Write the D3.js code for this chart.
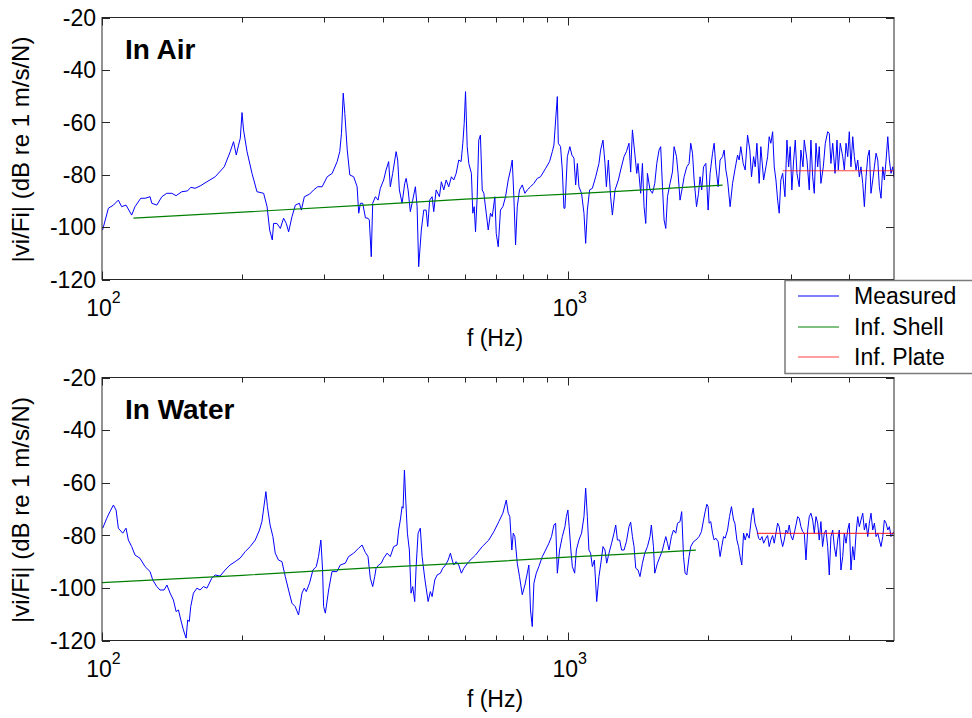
<!DOCTYPE html>
<html><head><meta charset="utf-8">
<script src="https://cdn.jsdelivr.net/npm/d3@7"></script>
<style>
body{margin:0;background:#fff;}
svg{display:block;}
text{font-family:Arial,"Liberation Sans",Helvetica,sans-serif;fill:#000;}
</style></head>
<body><div id="chart"></div>
<script>
// ---------------- data ----------------
const xDomain = [100, 5000];
const yDomain = [-120, -20];
const yTickValues = [-120, -100, -80, -60, -40, -20];
const xMajorTicks = [100, 1000];
const xMajorExponents = ["2", "3"];
const xMinorTicks = [200, 300, 400, 500, 600, 700, 800, 900, 2000, 3000, 4000];
const panelTitles = ["In Air", "In Water"];
const legendLabels = ["Measured", "Inf. Shell", "Inf. Plate"];
const yLabel = "|vi/Fi| (dB re 1 m/s/N)";
const xLabel = "f (Hz)";

const airMeasured = [[100.3,-101.1],[103.2,-92.8],[105.8,-91.6],[108.4,-89.7],[110.2,-92.2],[112.6,-91.6],[115.8,-95.4],[117.7,-92.2],[121.1,-89.0],[123.7,-89.0],[126.8,-88.4],[127.9,-90.9],[131.1,-91.6],[134.4,-88.4],[137.7,-87.1],[141.2,-87.1],[144.2,-88.0],[148.3,-86.5],[152.5,-86.2],[155.1,-84.8],[158.4,-85.2],[162.4,-84.3],[167.9,-82.7],[174.9,-80.8],[182.9,-77.0],[188.4,-71.2],[191.5,-67.4],[194.1,-72.5],[196.3,-68.7],[198.0,-66.1],[199.7,-56.3],[201.2,-62.9],[204.7,-71.2],[209.8,-79.5],[215.0,-86.5],[222.2,-87.1],[226.0,-92.2],[228.9,-101.1],[231.9,-104.9],[233.4,-98.6],[237.3,-98.6],[241.3,-100.5],[245.2,-96.6],[248.5,-98.6],[251.4,-101.8],[255.6,-96.0],[259.9,-91.6],[265.1,-90.9],[267.7,-93.5],[271.7,-88.4],[278.9,-87.4],[284.5,-85.8],[290.2,-84.6],[296.6,-84.6],[304.1,-80.8],[311.7,-79.5],[319.5,-75.0],[323.6,-71.2],[326.4,-64.2],[329.2,-48.9],[331.8,-56.6],[335.8,-70.6],[340.1,-80.1],[346.7,-80.8],[352.6,-84.6],[355.4,-94.7],[358.4,-90.9],[362.5,-90.9],[367.4,-96.5],[372.1,-96.6],[374.5,-97.3],[378.1,-111.3],[380.8,-90.9],[385.9,-88.4],[391.0,-89.7],[395.4,-85.2],[402.0,-82.0],[406.8,-78.2],[412.0,-75.0],[415.4,-84.6],[420.3,-79.5],[427.5,-71.2],[430.8,-74.4],[434.4,-85.8],[440.3,-90.9],[446.1,-83.3],[449.2,-81.4],[453.6,-85.8],[458.6,-94.1],[464.0,-89.7],[470.2,-84.6],[474.2,-92.2],[477.9,-115.1],[484.2,-101.1],[490.0,-93.5],[495.8,-93.5],[499.7,-99.8],[504.6,-89.7],[510.7,-88.4],[514.8,-94.1],[521.0,-85.8],[529.4,-88.4],[534.5,-82.7],[541.0,-85.8],[547.4,-82.0],[554.4,-84.6],[561.7,-80.8],[568.4,-82.0],[575.1,-79.5],[582.5,-74.4],[589.3,-75.0],[594.3,-68.0],[598.4,-60.4],[602.3,-48.3],[607.3,-69.3],[612.1,-75.7],[620.1,-79.5],[624.3,-94.7],[628.7,-92.2],[632.8,-101.8],[638.0,-88.4],[643.0,-66.8],[648.3,-64.9],[654.1,-85.8],[659.4,-87.1],[667.2,-94.7],[673.8,-101.1],[681.3,-94.7],[687.3,-96.0],[696.2,-88.4],[701.0,-102.4],[707.9,-107.5],[715.8,-93.5],[724.3,-92.2],[734.0,-88.4],[743.8,-82.0],[752.1,-78.2],[758.7,-74.4],[764.7,-88.4],[771.2,-106.8],[777.7,-92.2],[786.4,-85.8],[797.2,-83.9],[807.6,-87.1],[817.2,-85.8],[830.3,-84.6],[844.3,-83.3],[858.5,-81.4],[872.4,-80.8],[894.6,-77.6],[912.2,-75.0],[924.7,-71.2],[932.1,-68.7],[940.0,-59.1],[947.9,-50.2],[952.5,-68.0],[963.1,-69.3],[971.5,-78.2],[979.3,-92.8],[984.2,-92.8],[995.9,-73.1],[1008.5,-69.3],[1018.5,-72.5],[1029.0,-73.7],[1037.7,-83.9],[1046.4,-75.7],[1054.6,-84.6],[1068.4,-87.1],[1081.2,-94.7],[1090.3,-106.2],[1099.4,-93.5],[1111.8,-85.8],[1127.0,-85.2],[1145.6,-80.8],[1164.3,-75.7],[1173.8,-70.6],[1187.7,-66.8],[1199.5,-75.7],[1207.8,-84.6],[1219.7,-74.4],[1233.3,-88.4],[1244.2,-95.4],[1260.4,-85.8],[1281.6,-82.0],[1296.0,-78.2],[1317.8,-73.1],[1333.5,-71.2],[1350.5,-68.0],[1361.7,-79.0],[1373.6,-62.9],[1389.5,-71.8],[1403.2,-79.5],[1412.2,-75.7],[1430.7,-87.1],[1443.2,-75.7],[1454.8,-92.2],[1467.1,-98.6],[1479.4,-79.5],[1498.2,-85.8],[1516.4,-87.1],[1533.9,-83.3],[1549.1,-75.7],[1566.5,-70.6],[1579.4,-69.3],[1593.3,-84.6],[1606.1,-97.3],[1619.6,-100.5],[1633.2,-88.4],[1654.0,-83.3],[1674.1,-78.9],[1687.5,-69.3],[1707.6,-73.1],[1721.0,-79.5],[1737.8,-89.7],[1759.0,-84.6],[1773.1,-80.8],[1796.8,-77.0],[1817.1,-75.7],[1832.1,-68.0],[1848.2,-71.8],[1863.0,-82.0],[1885.2,-92.2],[1903.8,-87.1],[1918.6,-80.8],[1934.3,-85.8],[1951.6,-77.0],[1974.0,-75.7],[1996.3,-93.5],[2015.8,-79.5],[2040.3,-71.8],[2056.7,-68.0],[2074.1,-77.0],[2097.5,-84.6],[2118.0,-74.4],[2143.8,-73.1],[2161.0,-70.6],[2179.2,-78.2],[2197.5,-82.0],[2225.4,-92.2],[2252.5,-83.3],[2278.5,-78.2],[2308.9,-72.5],[2327.0,-74.4],[2346.1,-69.3],[2373.9,-75.7],[2397.6,-78.2],[2426.0,-64.9],[2453.3,-70.6],[2473.4,-80.8],[2499.2,-73.1],[2519.1,-77.0],[2540.3,-68.0],[2569.0,-83.3],[2590.1,-69.3],[2626.0,-82.0],[2656.1,-77.0],[2678.3,-73.1],[2699.2,-65.5],[2721.5,-68.0],[2745.4,-63.6],[2767.4,-77.0],[2790.7,-82.0],[2814.1,-89.7],[2836.1,-94.7],[2859.5,-82.0],[2884.6,-79.5],[2917.8,-88.4],[2946.7,-66.8],[2971.2,-77.0],[2994.4,-69.3],[3018.9,-85.8],[3046.0,-74.4],[3070.3,-66.8],[3096.1,-79.5],[3131.0,-84.6],[3156.8,-70.6],[3189.3,-77.0],[3210.0,-66.8],[3253.1,-74.4],[3289.8,-85.8],[3316.9,-66.8],[3346.0,-80.8],[3372.8,-87.1],[3401.3,-68.0],[3429.7,-77.0],[3456.6,-69.3],[3485.0,-83.3],[3526.2,-77.0],[3561.4,-68.0],[3603.6,-63.6],[3631.8,-64.2],[3661.7,-75.7],[3693.9,-68.0],[3736.4,-79.5],[3773.4,-66.8],[3797.4,-78.2],[3834.4,-68.0],[3881.2,-73.1],[3912.3,-78.2],[3945.3,-68.0],[3978.3,-73.1],[4009.4,-63.6],[4042.5,-77.0],[4078.0,-65.5],[4110.6,-73.1],[4145.4,-78.2],[4180.1,-74.4],[4212.8,-80.8],[4247.5,-77.0],[4284.8,-83.3],[4319.1,-92.2],[4355.6,-80.8],[4392.0,-73.1],[4426.4,-70.6],[4462.8,-87.1],[4502.0,-82.0],[4538.1,-77.0],[4576.4,-71.8],[4614.8,-74.4],[4650.8,-84.6],[4689.2,-89.0],[4730.3,-77.0],[4768.2,-82.0],[4808.5,-74.4],[4848.7,-65.5],[4886.6,-74.4],[4926.9,-79.5],[4970.1,-77.0],[5000,-81.0]];

const waterMeasured = [[100.35,-77.3],[102.4,-73.5],[104.0,-71.0],[105.8,-68.5],[107.2,-70.4],[108.4,-77.3],[110.8,-79.2],[112.6,-77.3],[113.9,-81.8],[115.8,-84.3],[117.7,-87.5],[120.6,-88.7],[123.7,-91.9],[126.8,-93.8],[128.5,-97.0],[131.1,-99.5],[133.2,-100.8],[135.9,-100.8],[137.8,-98.9],[140.0,-102.0],[142.3,-104.6],[144.2,-109.0],[145.9,-108.4],[147.6,-112.2],[149.5,-116.0],[151.5,-119.1],[152.7,-112.2],[153.9,-112.8],[155.0,-107.1],[157.1,-102.0],[159.8,-100.1],[162.3,-100.8],[165.1,-99.5],[167.9,-100.1],[172.0,-96.3],[174.9,-95.1],[179.2,-95.5],[183.7,-93.2],[188.2,-91.3],[193.1,-90.0],[197.8,-88.7],[202.9,-86.2],[207.9,-84.3],[213.2,-81.8],[217.7,-78.0],[220.3,-74.8],[222.0,-70.4],[224.7,-63.4],[226.4,-69.1],[229.4,-76.1],[232.6,-80.5],[235.3,-86.8],[239.1,-89.4],[243.2,-90.0],[247.3,-95.7],[251.3,-100.8],[255.5,-105.8],[259.7,-107.1],[264.0,-110.3],[268.5,-102.0],[271.6,-100.1],[274.3,-101.4],[278.7,-98.2],[283.5,-93.2],[288.2,-91.9],[291.4,-88.1],[294.8,-81.8],[297.3,-93.2],[298.8,-107.1],[301.4,-109.6],[306.3,-100.8],[311.4,-93.8],[319.2,-93.8],[324.4,-91.3],[332.6,-90.6],[338.0,-88.1],[346.6,-86.8],[355.2,-84.9],[361.3,-83.7],[367.2,-86.5],[372.1,-88.1],[376.3,-96.3],[380.8,-99.5],[384.6,-95.7],[387.2,-92.5],[392.2,-91.3],[397.3,-90.6],[402.0,-88.7],[408.8,-86.8],[415.4,-88.1],[422.4,-84.3],[429.6,-83.7],[432.9,-78.0],[436.5,-74.2],[440.3,-69.1],[442.5,-69.7],[445.4,-55.2],[448.3,-66.6],[452.0,-79.2],[456.4,-85.6],[460.2,-102.0],[464.0,-99.5],[468.6,-105.2],[471.9,-91.9],[476.5,-79.2],[481.8,-77.3],[486.1,-88.1],[492.4,-96.3],[500.7,-105.2],[506.3,-101.4],[510.7,-103.3],[517.4,-97.0],[523.5,-95.1],[532.0,-94.4],[538.3,-92.5],[545.6,-91.3],[552.8,-89.4],[559.0,-86.8],[563.9,-89.4],[568.4,-91.3],[575.1,-90.0],[582.5,-91.3],[590.1,-94.4],[597.3,-92.5],[612.1,-90.0],[632.8,-87.5],[654.1,-84.3],[675.7,-81.8],[692.8,-78.6],[710.0,-74.8],[724.3,-71.6],[736.6,-66.6],[743.8,-71.6],[749.6,-72.9],[757.1,-85.6],[762.5,-79.2],[768.5,-80.5],[777.7,-90.6],[786.4,-95.7],[797.2,-102.6],[807.6,-98.9],[817.2,-94.4],[823.5,-91.3],[830.3,-108.4],[837.5,-114.7],[844.3,-98.2],[854.3,-94.4],[865.2,-91.9],[880.1,-88.1],[894.6,-85.6],[909.2,-83.0],[921.1,-80.5],[932.1,-76.1],[940.0,-75.4],[947.9,-94.4],[958.5,-85.6],[971.5,-80.5],[984.2,-76.7],[991.0,-72.9],[998.5,-70.4],[1005.0,-76.7],[1013.4,-85.6],[1020.9,-91.9],[1032.6,-94.4],[1041.3,-85.6],[1054.6,-81.8],[1068.4,-79.2],[1081.2,-72.9],[1090.3,-62.1],[1099.4,-72.9],[1108.0,-85.6],[1117.2,-86.8],[1127.0,-91.9],[1138.3,-89.4],[1151.3,-105.2],[1164.3,-95.7],[1177.8,-89.4],[1187.7,-84.3],[1199.5,-85.6],[1209.6,-90.6],[1223.3,-86.8],[1239.3,-83.0],[1254.2,-79.2],[1264.8,-76.1],[1275.4,-81.8],[1289.7,-81.8],[1302.2,-85.6],[1317.8,-85.6],[1333.5,-82.4],[1350.5,-76.7],[1361.7,-75.0],[1373.6,-80.5],[1384.6,-84.3],[1396.3,-92.5],[1412.2,-93.2],[1425.9,-95.7],[1443.2,-90.6],[1459.9,-86.8],[1479.4,-84.3],[1498.2,-80.5],[1508.3,-76.1],[1524.0,-84.3],[1533.9,-94.4],[1554.4,-90.6],[1574.2,-88.1],[1593.3,-85.6],[1606.1,-83.0],[1619.6,-80.5],[1633.2,-83.0],[1646.0,-85.6],[1665.1,-80.5],[1682.5,-78.0],[1701.8,-79.2],[1716.0,-75.4],[1737.8,-74.8],[1752.0,-71.0],[1767.8,-88.1],[1781.9,-94.4],[1796.8,-95.1],[1817.1,-88.1],[1832.1,-84.3],[1857.5,-82.4],[1878.8,-81.8],[1909.3,-80.5],[1931.5,-78.6],[1951.6,-74.2],[1967.2,-71.0],[1983.7,-68.2],[1996.3,-69.1],[2006.1,-75.4],[2022.6,-74.8],[2040.3,-79.2],[2056.7,-81.8],[2074.1,-81.1],[2097.5,-82.4],[2118.0,-88.1],[2135.4,-84.3],[2154.5,-80.5],[2171.7,-81.1],[2197.5,-78.0],[2218.9,-72.9],[2240.4,-69.1],[2263.8,-74.2],[2278.5,-75.4],[2301.0,-81.8],[2320.2,-84.3],[2338.2,-88.1],[2357.4,-91.3],[2378.6,-79.2],[2397.6,-81.8],[2417.7,-79.2],[2445.0,-81.1],[2473.4,-72.9],[2494.2,-69.7],[2515.4,-75.4],[2540.3,-78.0],[2561.5,-81.1],[2581.4,-81.8],[2605.0,-80.5],[2626.0,-83.0],[2656.1,-81.1],[2678.3,-80.1],[2699.2,-84.3],[2721.5,-81.8],[2745.4,-80.1],[2767.4,-83.0],[2790.7,-79.2],[2814.1,-75.4],[2836.1,-76.7],[2859.5,-81.1],[2884.6,-84.3],[2907.7,-81.8],[2932.2,-78.0],[2956.8,-79.2],[2979.9,-76.1],[3004.5,-80.1],[3030.9,-81.8],[3055.1,-79.2],[3080.9,-76.1],[3106.7,-72.9],[3131.0,-73.5],[3156.8,-76.7],[3184.5,-78.6],[3210.0,-79.2],[3237.1,-89.4],[3264.3,-78.0],[3289.8,-72.9],[3316.9,-71.6],[3346.0,-74.2],[3372.8,-79.2],[3401.3,-72.9],[3429.7,-75.4],[3456.6,-81.8],[3485.0,-74.8],[3513.5,-84.3],[3543.8,-79.2],[3573.7,-78.0],[3603.6,-84.3],[3631.8,-95.1],[3661.7,-80.5],[3693.9,-78.0],[3723.4,-84.3],[3754.9,-88.1],[3786.3,-81.8],[3815.9,-78.0],[3847.4,-93.2],[3881.2,-88.1],[3912.3,-79.2],[3945.3,-83.0],[3978.3,-78.0],[4009.4,-75.4],[4042.5,-93.2],[4078.0,-84.3],[4110.6,-89.4],[4145.4,-79.2],[4180.1,-72.9],[4212.8,-76.7],[4247.5,-74.2],[4284.8,-71.6],[4319.1,-78.0],[4355.6,-75.4],[4392.0,-80.5],[4426.4,-75.4],[4462.8,-71.6],[4502.0,-78.0],[4538.1,-75.4],[4576.4,-80.5],[4614.8,-79.2],[4650.8,-81.8],[4689.2,-84.3],[4730.3,-80.5],[4768.2,-74.2],[4808.5,-75.4],[4848.7,-78.0],[4886.6,-76.7],[4926.9,-80.5],[4970.1,-79.2],[5000,-78.6]];

const airShell = [[116.8,-96.6],[200,-94.3],[367,-91.6],[602,-89.3],[995,-87.4],[1362,-86.1],[1700,-85.0],[2144,-84.0]];
const waterShell = [[100,-98.0],[200,-95.2],[367,-92.5],[602,-90.6],[995,-88.3],[1362,-87.1],[1879,-85.6]];
const airPlate = [[2884,-78.5],[5000,-78.5]];
const waterPlate = [[2540,-79.3],[5000,-79.3]];

// ---------------- layout ----------------
const W = 972, H = 718;
const plotLeft = 102, plotRight = 894;
const panels = [
  {title: panelTitles[0], top: 17.5, bottom: 279.5, measured: airMeasured, shell: airShell, plate: airPlate},
  {title: panelTitles[1], top: 377.5, bottom: 640.5, measured: waterMeasured, shell: waterShell, plate: waterPlate}
];
const colors = {measured: "#0000ff", shell: "#008000", plate: "#ff0000"};
const axisColor = "#262626";

const svg = d3.select("#chart").append("svg").attr("width", W).attr("height", H);
svg.append("rect").attr("width", W).attr("height", H).attr("fill", "#fff");

const x = d3.scaleLog().domain(xDomain).range([plotLeft, plotRight]);

panels.forEach((p, i) => {
  const y = d3.scaleLinear().domain(yDomain).range([p.bottom, p.top]);
  const g = svg.append("g");
  const clipId = "clip" + i;
  svg.append("clipPath").attr("id", clipId).append("rect")
    .attr("x", plotLeft).attr("y", p.top).attr("width", plotRight - plotLeft).attr("height", p.bottom - p.top);

  const line = d3.line().x(d => x(d[0])).y(d => y(d[1]));
  const lines = g.append("g").attr("clip-path", `url(#${clipId})`);
  lines.append("path").datum(p.measured).attr("d", line)
    .attr("fill", "none").attr("stroke", colors.measured).attr("stroke-width", 1);
  lines.append("path").datum(p.shell).attr("d", line)
    .attr("fill", "none").attr("stroke", colors.shell).attr("stroke-width", 1.2);
  lines.append("path").datum(p.plate).attr("d", line)
    .attr("fill", "none").attr("stroke", colors.plate).attr("stroke-width", 1.2).attr("stroke-opacity", 0.75);

  // frame
  g.append("rect").attr("x", plotLeft).attr("y", p.top)
    .attr("width", plotRight - plotLeft).attr("height", p.bottom - p.top)
    .attr("fill", "none").attr("stroke", axisColor).attr("stroke-width", 1);

  // ticks (inside, on all four sides)
  const tickG = g.append("g").attr("stroke", axisColor).attr("stroke-width", 1);
  xMajorTicks.forEach(t => {
    const xx = Math.round(x(t)) + 0.5;
    tickG.append("line").attr("x1", xx).attr("x2", xx).attr("y1", p.bottom).attr("y2", p.bottom - 8);
    tickG.append("line").attr("x1", xx).attr("x2", xx).attr("y1", p.top).attr("y2", p.top + 8);
  });
  xMinorTicks.forEach(t => {
    const xx = Math.round(x(t)) + 0.5;
    tickG.append("line").attr("x1", xx).attr("x2", xx).attr("y1", p.bottom).attr("y2", p.bottom - 5);
    tickG.append("line").attr("x1", xx).attr("x2", xx).attr("y1", p.top).attr("y2", p.top + 5);
  });
  yTickValues.forEach(t => {
    const yy = Math.round(y(t)) + 0.5;
    tickG.append("line").attr("x1", plotLeft).attr("x2", plotLeft + 8).attr("y1", yy).attr("y2", yy);
    tickG.append("line").attr("x1", plotRight).attr("x2", plotRight - 8).attr("y1", yy).attr("y2", yy);
  });

  // y tick labels
  yTickValues.forEach(t => {
    g.append("text").attr("x", plotLeft - 6).attr("y", y(t)).attr("dy", "0.36em")
      .attr("text-anchor", "end").attr("font-size", 23).text(t);
  });
  // x tick labels 10^n
  xMajorTicks.forEach((t, k) => {
    const tx = g.append("text").attr("x", x(t) + 1.5).attr("y", p.bottom + 36)
      .attr("text-anchor", "middle").attr("font-size", 23);
    tx.append("tspan").text("10");
    tx.append("tspan").attr("font-size", 16).attr("dy", -13).text(xMajorExponents[k]);
  });
  // axis labels
  g.append("text").attr("x", 495).attr("y", p.bottom + 66).attr("text-anchor", "middle")
    .attr("font-size", 23).text(xLabel);
  g.append("text").attr("transform", `translate(29,${(p.top + p.bottom) / 2 + 1}) rotate(-90)`)
    .attr("text-anchor", "middle").attr("font-size", 24).text(yLabel);
  // title
  g.append("text").attr("x", 125).attr("y", p.top + 41).attr("font-size", 28)
    .attr("font-weight", "bold").text(p.title);
});

// legend
const lg = svg.append("g");
lg.append("rect").attr("x", 785).attr("y", 280.5).attr("width", 200).attr("height", 93)
  .attr("fill", "#fff").attr("stroke", "#7a7a7a").attr("stroke-width", 1.5);
const legendColors = [colors.measured, colors.shell, colors.plate];
const legendRowY = [296, 327, 357];
legendLabels.forEach((lab, k) => {
  lg.append("line").attr("x1", 798).attr("x2", 839).attr("y1", legendRowY[k]).attr("y2", legendRowY[k])
    .attr("stroke", legendColors[k]).attr("stroke-width", 1.2).attr("stroke-opacity", k === 2 ? 0.75 : 1);
  lg.append("text").attr("x", 854).attr("y", legendRowY[k]).attr("dy", "0.36em")
    .attr("font-size", 23).text(lab);
});
</script>
</body></html>
